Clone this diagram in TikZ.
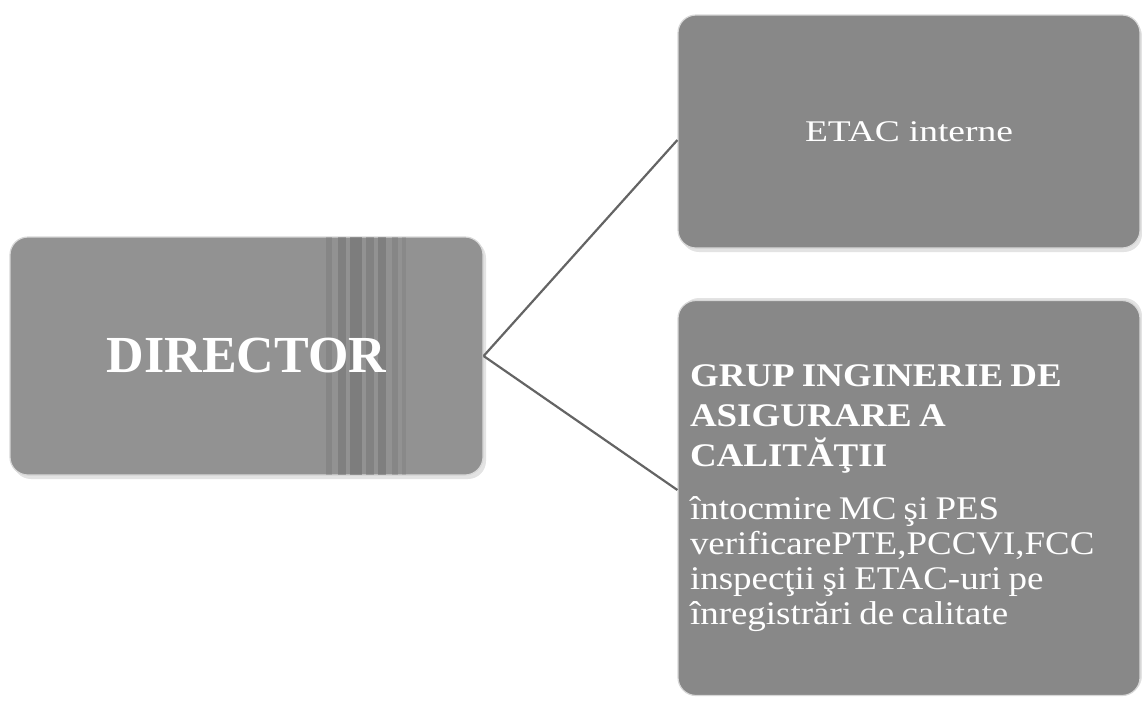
\documentclass[tikz,border=0pt]{standalone}
\usepackage{fontspec}
\setmainfont{Liberation Serif}
\newfontfamily\bodyfont[FakeStretch=1.12]{Liberation Serif}
\newfontfamily\etacfont[FakeStretch=1.25]{Liberation Serif}
\definecolor{boxgray}{RGB}{136,136,136}
\definecolor{dirgray}{RGB}{146,146,146}
\definecolor{stripe}{RGB}{112,112,112}
\definecolor{linegray}{RGB}{100,100,100}
\definecolor{edgegray}{RGB}{215,215,215}
\begin{document}
\begin{tikzpicture}[x=1pt,y=-1pt,
  boxstyle/.style={draw=edgegray, line width=1.2pt, rounded corners=18pt, inner sep=0pt, text=white},
  shadowstyle/.style={fill=edgegray!70, rounded corners=18pt},
  conn/.style={draw=linegray, line width=2.2pt}]
\useasboundingbox (0,0) rectangle (1142,702);
% shadows
\fill[shadowstyle] (13,240) rectangle (486,479);
\fill[shadowstyle] (681,18) rectangle (1142,252);
\fill[shadowstyle] (681,298) rectangle (1142,694);
% DIRECTOR box
\node[boxstyle, fill=dirgray, minimum width=473pt, minimum height=238pt] (dir) at (246.5,356) {};
\begin{scope}
  \clip[rounded corners=18pt] (10,237) rectangle (483,475);
  \fill[stripe, opacity=0.35] (326,237) rectangle (332,475);
  \fill[stripe, opacity=0.5] (338,237) rectangle (346,475);
  \fill[stripe, opacity=0.6] (350,237) rectangle (362,475);
  \fill[stripe, opacity=0.45] (366,237) rectangle (374,475);
  \fill[stripe, opacity=0.55] (378,237) rectangle (386,475);
  \fill[stripe, opacity=0.35] (392,237) rectangle (398,475);
  \fill[stripe, opacity=0.25] (402,237) rectangle (406,475);
\end{scope}
\node[text=white, font=\bfseries\fontsize{52}{60}\selectfont] (dirtext) at (246.5,356) {DIRECTOR};
% ETAC box
\node[boxstyle, fill=boxgray, minimum width=462pt, minimum height=233pt,
  font=\etacfont\fontsize{30}{34}\selectfont] (etac) at (909,131.5) {\raisebox{-8pt}{\spaceskip=0.3em\relax ETAC interne}};
% bottom box
\node[boxstyle, fill=boxgray, minimum width=462pt, minimum height=395pt, text width=438pt, align=left] (grup) at (909,498)
 {{\bodyfont\bfseries\fontsize{33}{40}\selectfont\spaceskip=0.22em\relax GRUP INGINERIE DE\\ASIGURARE A\\CALITĂŢII\par}\vspace{18pt}
  {\bodyfont\fontsize{33}{35}\selectfont\spaceskip=0.22em\relax întocmire MC şi PES\\verificarePTE,PCCVI,FCC\\inspecţii şi ETAC-uri pe\\înregistrări de calitate\par}};
% connectors
\coordinate (jn) at (dir.east);
\draw[conn] (jn) -- (etac.west |- 0,140);
\draw[conn] (jn) -- (grup.west |- 0,490);
\end{tikzpicture}
\end{document}
